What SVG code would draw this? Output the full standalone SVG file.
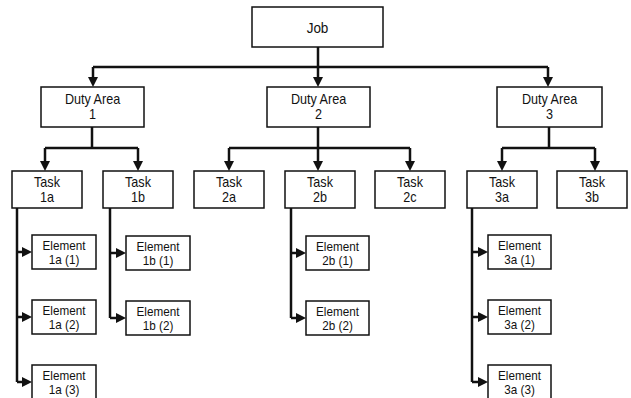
<svg xmlns="http://www.w3.org/2000/svg" width="631" height="398" viewBox="0 0 631 398">
<style>
.box{fill:#fff;stroke:#111;stroke-width:1.5}
.t{font-family:"Liberation Sans",Arial,sans-serif;font-size:14px;fill:#111;text-anchor:middle}
.e{font-size:13px}
.j{font-size:15px}
.c{fill:none;stroke:#111;stroke-width:2.5}
</style>
<defs>
<marker id="ah" markerUnits="userSpaceOnUse" markerWidth="10" markerHeight="10" refX="6" refY="5" orient="auto">
<path d="M0,0 L10,5 L0,10 Z" fill="#111"/>
</marker>
</defs>
<rect width="631" height="398" fill="#fff"/>
<g id="connectors">
<path class="c" d="M318,47 V67 M93,67 H548"/>
<path class="c" d="M93,67 V83" marker-end="url(#ah)"/>
<path class="c" d="M318,67 V83" marker-end="url(#ah)"/>
<path class="c" d="M548,67 V83" marker-end="url(#ah)"/>
<path class="c" d="M92,127 V148 M45,148 H138"/>
<path class="c" d="M45,148 V167" marker-end="url(#ah)"/>
<path class="c" d="M138,148 V167" marker-end="url(#ah)"/>
<path class="c" d="M318,127 V148 M229,148 H410"/>
<path class="c" d="M229,148 V167" marker-end="url(#ah)"/>
<path class="c" d="M318,148 V167" marker-end="url(#ah)"/>
<path class="c" d="M410,148 V167" marker-end="url(#ah)"/>
<path class="c" d="M549,127 V148 M502,148 H595"/>
<path class="c" d="M502,148 V167" marker-end="url(#ah)"/>
<path class="c" d="M595,148 V167" marker-end="url(#ah)"/>
<path class="c" d="M17,208 V382"/>
<path class="c" d="M17,252 H28" marker-end="url(#ah)"/>
<path class="c" d="M17,317 H28" marker-end="url(#ah)"/>
<path class="c" d="M17,382 H28" marker-end="url(#ah)"/>
<path class="c" d="M110,208 V318"/>
<path class="c" d="M110,253 H122" marker-end="url(#ah)"/>
<path class="c" d="M110,318 H122" marker-end="url(#ah)"/>
<path class="c" d="M291,208 V318"/>
<path class="c" d="M291,253 H302" marker-end="url(#ah)"/>
<path class="c" d="M291,318 H302" marker-end="url(#ah)"/>
<path class="c" d="M472,208 V382"/>
<path class="c" d="M472,252 H484" marker-end="url(#ah)"/>
<path class="c" d="M472,317 H484" marker-end="url(#ah)"/>
<path class="c" d="M472,382 H484" marker-end="url(#ah)"/>
</g>
<g id="job"><rect class="box" x="252" y="7" width="131" height="40"/><text class="t j" transform="translate(317.5 0) scale(.9 1)" y="33">Job</text></g>
<g id="duty1"><rect class="box" x="41" y="87" width="103" height="40"/><text class="t" transform="translate(92.5 0) scale(.9 1)" y="104">Duty Area</text><text class="t" transform="translate(92.5 0) scale(.9 1)" y="119">1</text></g>
<g id="duty2"><rect class="box" x="267" y="87" width="103" height="40"/><text class="t" transform="translate(318.5 0) scale(.9 1)" y="104">Duty Area</text><text class="t" transform="translate(318.5 0) scale(.9 1)" y="119">2</text></g>
<g id="duty3"><rect class="box" x="497" y="87" width="105" height="40"/><text class="t" transform="translate(549.5 0) scale(.9 1)" y="104">Duty Area</text><text class="t" transform="translate(549.5 0) scale(.9 1)" y="119">3</text></g>
<g id="task1a"><rect class="box" x="12" y="171" width="70" height="37"/><text class="t" transform="translate(47 0) scale(.9 1)" y="187">Task</text><text class="t" transform="translate(47 0) scale(.9 1)" y="202">1a</text></g>
<g id="task1b"><rect class="box" x="103" y="171" width="70" height="37"/><text class="t" transform="translate(138 0) scale(.9 1)" y="187">Task</text><text class="t" transform="translate(138 0) scale(.9 1)" y="202">1b</text></g>
<g id="task2a"><rect class="box" x="194" y="171" width="70" height="37"/><text class="t" transform="translate(229 0) scale(.9 1)" y="187">Task</text><text class="t" transform="translate(229 0) scale(.9 1)" y="202">2a</text></g>
<g id="task2b"><rect class="box" x="285" y="171" width="70" height="37"/><text class="t" transform="translate(320 0) scale(.9 1)" y="187">Task</text><text class="t" transform="translate(320 0) scale(.9 1)" y="202">2b</text></g>
<g id="task2c"><rect class="box" x="375" y="171" width="70" height="37"/><text class="t" transform="translate(410 0) scale(.9 1)" y="187">Task</text><text class="t" transform="translate(410 0) scale(.9 1)" y="202">2c</text></g>
<g id="task3a"><rect class="box" x="467" y="171" width="70" height="37"/><text class="t" transform="translate(502 0) scale(.9 1)" y="187">Task</text><text class="t" transform="translate(502 0) scale(.9 1)" y="202">3a</text></g>
<g id="task3b"><rect class="box" x="557" y="171" width="70" height="37"/><text class="t" transform="translate(592 0) scale(.9 1)" y="187">Task</text><text class="t" transform="translate(592 0) scale(.9 1)" y="202">3b</text></g>
<g id="el1a1"><rect class="box" x="32" y="235" width="64" height="34"/><text class="t e" transform="translate(64 0) scale(.9 1)" y="250">Element</text><text class="t e" transform="translate(64 0) scale(.9 1)" y="264">1a (1)</text></g>
<g id="el1a2"><rect class="box" x="32" y="300" width="64" height="34"/><text class="t e" transform="translate(64 0) scale(.9 1)" y="315">Element</text><text class="t e" transform="translate(64 0) scale(.9 1)" y="329">1a (2)</text></g>
<g id="el1a3"><rect class="box" x="32" y="365" width="64" height="35"/><text class="t e" transform="translate(64 0) scale(.9 1)" y="380">Element</text><text class="t e" transform="translate(64 0) scale(.9 1)" y="394">1a (3)</text></g>
<g id="el1b1"><rect class="box" x="126" y="236" width="64" height="34"/><text class="t e" transform="translate(158 0) scale(.9 1)" y="251">Element</text><text class="t e" transform="translate(158 0) scale(.9 1)" y="265">1b (1)</text></g>
<g id="el1b2"><rect class="box" x="126" y="301" width="64" height="34"/><text class="t e" transform="translate(158 0) scale(.9 1)" y="316">Element</text><text class="t e" transform="translate(158 0) scale(.9 1)" y="330">1b (2)</text></g>
<g id="el2b1"><rect class="box" x="306" y="236" width="63" height="34"/><text class="t e" transform="translate(337.5 0) scale(.9 1)" y="251">Element</text><text class="t e" transform="translate(337.5 0) scale(.9 1)" y="265">2b (1)</text></g>
<g id="el2b2"><rect class="box" x="306" y="301" width="63" height="34"/><text class="t e" transform="translate(337.5 0) scale(.9 1)" y="316">Element</text><text class="t e" transform="translate(337.5 0) scale(.9 1)" y="330">2b (2)</text></g>
<g id="el3a1"><rect class="box" x="488" y="235" width="63" height="34"/><text class="t e" transform="translate(519.5 0) scale(.9 1)" y="250">Element</text><text class="t e" transform="translate(519.5 0) scale(.9 1)" y="264">3a (1)</text></g>
<g id="el3a2"><rect class="box" x="488" y="300" width="63" height="34"/><text class="t e" transform="translate(519.5 0) scale(.9 1)" y="315">Element</text><text class="t e" transform="translate(519.5 0) scale(.9 1)" y="329">3a (2)</text></g>
<g id="el3a3"><rect class="box" x="488" y="365" width="63" height="35"/><text class="t e" transform="translate(519.5 0) scale(.9 1)" y="380">Element</text><text class="t e" transform="translate(519.5 0) scale(.9 1)" y="394">3a (3)</text></g>
</svg>
